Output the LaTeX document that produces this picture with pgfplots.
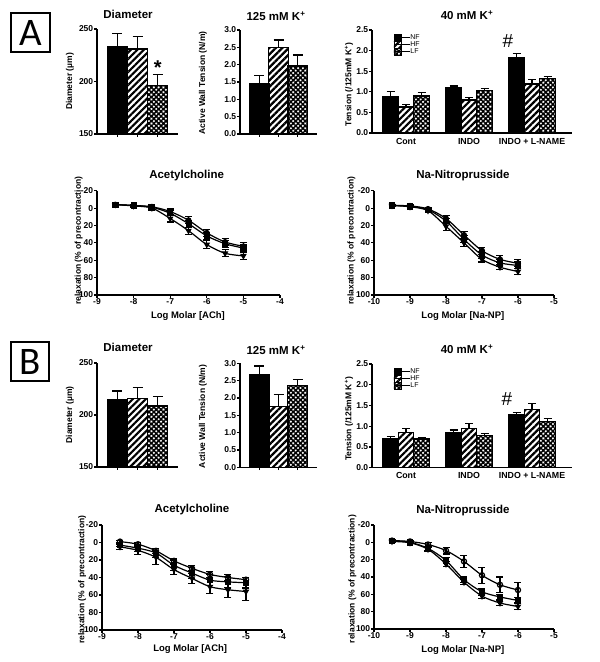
\documentclass[border=0pt]{standalone}
\usepackage{fontspec}
\setmainfont{Liberation Sans}
\newfontfamily\boxfont{Carlito}
\usepackage{pgfplots}
\pgfplotsset{compat=1.18}
\usetikzlibrary{patterns.meta}

\tikzset{
  nf/.style={fill=black, draw=black, line width=1.2pt},
  hf/.style={pattern={Lines[angle=45,distance=4.6pt,line width=2.2pt]}, draw=black, line width=1.2pt},
  lf/.style={pattern={Hatch[angle=45,distance=3.4pt,line width=1.5pt]}, draw=black, line width=1.2pt},
}
\pgfplotsset{
  gp/.style={
    scale only axis, anchor=south west,
    axis lines*=left,
    axis line style={line width=1.3pt,-},
    tick style={line width=1.1pt,black},
    tick align=outside, major tick length=2.8pt,
    tick label style={font=\bfseries\fontsize{8.5}{9}\selectfont, inner sep=0.8pt},
    /pgf/number format/assume math mode=true,
    ylabel style={font=\bfseries\fontsize{8.5}{10}\selectfont},
    xlabel style={font=\bfseries\fontsize{9.5}{11}\selectfont},
    title style={font=\bfseries\fontsize{11.5}{13}\selectfont},
    every axis title shift=0pt,
  },
  ttl/.style 2 args={title style={at={(axis description cs:#1,#2)},anchor=center}},
  ylab/.style 2 args={ylabel style={at={(axis description cs:#1,#2)},anchor=center}},
  xlab/.style 2 args={xlabel style={at={(axis description cs:#1,#2)},anchor=center}},
  errp/.style={
    /pgfplots/error bars/y dir=plus, /pgfplots/error bars/y explicit,
    /pgfplots/error bars/error bar style={line width=1.2pt,black,solid},
    /pgfplots/error bars/error mark options={rotate=90,mark size=5pt,line width=1.2pt,black,solid},
  },
  errs/.style={
    /pgfplots/error bars/y dir=plus, /pgfplots/error bars/y explicit,
    /pgfplots/error bars/error bar style={line width=1.1pt,black,solid},
    /pgfplots/error bars/error mark options={rotate=90,mark size=4pt,line width=1.1pt,black,solid},
  },
  single/.style={gp, xmin=0, xmax=4, xtick={1,2,3}, xticklabels={,,}},
  triple/.style={gp, xmin=0.46, xmax=3.635, xtick={1,2,3},
    xticklabels={Cont,INDO,INDO + L-NAME},
    xticklabel style={font=\bfseries\fontsize{8.8}{10}\selectfont, inner sep=2pt},
    major x tick style={draw=none},
    ymin=0, ymax=2.5, ytick={0,0.5,...,2.5},
    yticklabel style={/pgf/number format/.cd,fixed,fixed zerofill,precision=1},
    ylabel={Tension (/125mM K\textsuperscript{+})},
    ylab={-0.115}{0.47},
    title={40 mM K\textsuperscript{+}},
    legend style={draw=none, fill=none, at={(axis description cs:0.105,0.965)},
      anchor=north west, font=\fontsize{7}{7}\selectfont,
      row sep=0pt, inner sep=0pt, nodes={inner sep=0pt}, cells={anchor=west}},
    legend image code/.code={\draw[##1,line width=0.5pt] (0pt,-3.3pt) rectangle (7pt,3.3pt);
      \path (0pt,0pt) -- (16pt,0pt);},
  },
  curve/.style={gp, y dir=reverse, ymin=-20, ymax=100, ytick={-20,0,...,100},
    ylabel={relaxation (\% of precontraction)}},
  cl/.style={black, line width=1.2pt, smooth, mark size=2.6pt,
    mark options={solid,line width=0.8pt},
    /pgfplots/error bars/y dir=both, /pgfplots/error bars/y explicit,
    /pgfplots/error bars/error bar style={line width=1.1pt,black},
    /pgfplots/error bars/error mark options={rotate=90,mark size=3.5pt,line width=1.1pt,black}},
  bar1/.style={ybar, bar width=20pt, bar shift=0pt},
  bar3/.style={ybar, bar width=15.5pt, bar shift=0pt},
}

\begin{document}
\begin{tikzpicture}[x=1pt,y=1pt]

\node[draw, line width=1.1pt, minimum width=39pt, minimum height=39pt, inner sep=0pt,
  font=\boxfont\fontsize{39}{39}\selectfont] at (30.5pt,629.5pt) {A};
\node[draw, line width=1.1pt, minimum width=38pt, minimum height=39pt, inner sep=0pt,
  font=\boxfont\fontsize{39}{39}\selectfont] at (30pt,300.5pt) {B};

% ---------- A: Diameter
\begin{axis}[single, at={(97pt,528pt)}, width=81pt, height=105pt,
  ymin=150, ymax=250, ytick={150,200,250},
  ylabel={Diameter (µm)}, ylab={-0.333}{0.5},
  title={Diameter}, ttl={0.383}{1.143}]
\addplot[nf, bar1, errp] coordinates {(1,233) +- (0,13)};
\addplot[hf, bar1, errp] coordinates {(2,231) +- (0,12)};
\addplot[lf, bar1, errp] coordinates {(3,196) +- (0,10.5)};
\node[anchor=base, font=\bfseries\fontsize{20}{20}\selectfont] at (axis cs:3,206.5) {*};
\end{axis}

% ---------- A: 125 mM
\begin{axis}[single, at={(240pt,528pt)}, width=77pt, height=104pt,
  ymin=0, ymax=3, ytick={0,0.5,...,3},
  yticklabel style={/pgf/number format/.cd,fixed,fixed zerofill,precision=1},
  ylabel={Active Wall Tension (N/m)}, ylab={-0.48}{0.49},
  title={125 mM K\textsuperscript{+}}, ttl={0.468}{1.135}]
\addplot[nf, bar1, errp] coordinates {(1,1.44) +- (0,0.25)};
\addplot[hf, bar1, errp] coordinates {(2,2.50) +- (0,0.21)};
\addplot[lf, bar1, errp] coordinates {(3,1.96) +- (0,0.32)};
\end{axis}

% ---------- A: 40 mM
\begin{axis}[triple, at={(372pt,529pt)}, width=200pt, height=103pt, ttl={0.475}{1.146}]
\addplot[nf, bar3, errs] coordinates {(0.754,0.88) +- (0,0.12) (1.754,1.09) +- (0,0.05) (2.754,1.83) +- (0,0.10)};
\addplot[hf, bar3, errs] coordinates {(1,0.63) +- (0,0.07) (2,0.80) +- (0,0.07) (3,1.19) +- (0,0.11)};
\addplot[lf, bar3, errs] coordinates {(1.246,0.90) +- (0,0.08) (2.246,1.03) +- (0,0.06) (3.246,1.32) +- (0,0.06)};
\legend{NF,HF,LF}
\node[anchor=base, xshift=-24pt, font=\fontsize{19}{19}\selectfont] at (axis cs:3,2.07) {\#};
\end{axis}

% ---------- A: Acetylcholine
\begin{axis}[curve, at={(97pt,367pt)}, width=183pt, height=104.3pt,
  xmin=-9, xmax=-4, xtick={-9,...,-4}, xlabel={Log Molar [ACh]},
  xlab={0.497}{-0.2}, ylab={-0.1}{0.52},
  title={Acetylcholine}, ttl={0.49}{1.15}]
\addplot[cl, mark=*] coordinates {(-8.5,-4) +- (0,1) (-8,-3) +- (0,1.5) (-7.5,-1.5) +- (0,2) (-7,4) +- (0,3) (-6.5,14) +- (0,4) (-6,28.5) +- (0,4) (-5.5,39) +- (0,4) (-5,44) +- (0,4)};
\addplot[cl, mark=square*] coordinates {(-8.5,-4) +- (0,1) (-8,-3) +- (0,1.5) (-7.5,-1) +- (0,2) (-7,6) +- (0,3) (-6.5,18) +- (0,4) (-6,32) +- (0,4) (-5.5,41) +- (0,4) (-5,46) +- (0,4)};
\addplot[cl, mark=triangle*, mark options={rotate=180}] coordinates {(-8.5,-4) +- (0,1.5) (-8,-2.5) +- (0,2) (-7.5,0) +- (0,2.5) (-7,12) +- (0,4) (-6.5,26) +- (0,4) (-6,42) +- (0,5) (-5.5,52) +- (0,4) (-5,55) +- (0,4)};
\end{axis}

% ---------- A: Na-Nitroprusside
\begin{axis}[curve, at={(374pt,367pt)}, width=180pt, height=104.3pt,
  xmin=-10, xmax=-5, xtick={-10,...,-5}, xlabel={Log Molar [Na-NP]},
  xlab={0.494}{-0.2}, ylab={-0.125}{0.52},
  title={Na-Nitroprusside}, ttl={0.494}{1.15}]
\addplot[cl, mark=*] coordinates {(-9.5,-3) +- (0,1) (-9,-2.5) +- (0,1) (-8.5,1) +- (0,2) (-8,12) +- (0,3) (-7.5,31) +- (0,4) (-7,49) +- (0,4) (-6.5,59) +- (0,4) (-6,63.5) +- (0,4)};
\addplot[cl, mark=square*] coordinates {(-9.5,-3) +- (0,1) (-9,-2) +- (0,1) (-8.5,2) +- (0,2) (-8,15) +- (0,3) (-7.5,36) +- (0,4) (-7,54) +- (0,4) (-6.5,63) +- (0,4) (-6,66) +- (0,4)};
\addplot[cl, mark=triangle*, mark options={rotate=180}] coordinates {(-9.5,-3) +- (0,1) (-9,-1.5) +- (0,1) (-8.5,3) +- (0,2) (-8,21) +- (0,5) (-7.5,40) +- (0,4) (-7,59) +- (0,3) (-6.5,68) +- (0,3) (-6,73) +- (0,3)};
\end{axis}

% ---------- B: Diameter
\begin{axis}[single, at={(97pt,195pt)}, width=81pt, height=104pt,
  ymin=150, ymax=250, ytick={150,200,250},
  ylabel={Diameter (µm)}, ylab={-0.333}{0.5},
  title={Diameter}, ttl={0.383}{1.154}]
\addplot[nf, bar1, errp] coordinates {(1,215) +- (0,8)};
\addplot[hf, bar1, errp] coordinates {(2,215.5) +- (0,11)};
\addplot[lf, bar1, errp] coordinates {(3,208.7) +- (0,9)};
\end{axis}

% ---------- B: 125 mM
\begin{axis}[single, at={(240pt,194.7pt)}, width=77pt, height=104pt,
  ymin=0, ymax=3, ytick={0,0.5,...,3},
  yticklabel style={/pgf/number format/.cd,fixed,fixed zerofill,precision=1},
  ylabel={Active Wall Tension (N/m)}, ylab={-0.48}{0.49},
  title={125 mM K\textsuperscript{+}}, ttl={0.468}{1.128}]
\addplot[nf, bar1, errp] coordinates {(1,2.68) +- (0,0.24)};
\addplot[hf, bar1, errp] coordinates {(2,1.75) +- (0,0.34)};
\addplot[lf, bar1, errp] coordinates {(3,2.35) +- (0,0.19)};
\end{axis}

% ---------- B: 40 mM
\begin{axis}[triple, at={(372pt,194.3pt)}, width=200pt, height=103.7pt, ttl={0.475}{1.145}]
\addplot[nf, bar3, errs] coordinates {(0.754,0.71) +- (0,0.05) (1.754,0.84) +- (0,0.07) (2.754,1.27) +- (0,0.06)};
\addplot[hf, bar3, errs] coordinates {(1,0.85) +- (0,0.10) (2,0.94) +- (0,0.13) (3,1.40) +- (0,0.14)};
\addplot[lf, bar3, errs] coordinates {(1.246,0.69) +- (0,0.03) (2.246,0.78) +- (0,0.04) (3.246,1.11) +- (0,0.08)};
\legend{NF,HF,LF}
\node[anchor=base, xshift=-25pt, font=\fontsize{19}{19}\selectfont] at (axis cs:3,1.51) {\#};
\end{axis}

% ---------- B: Acetylcholine
\begin{axis}[curve, at={(102pt,32pt)}, width=180pt, height=105pt,
  xmin=-9, xmax=-4, xtick={-9,...,-4}, xlabel={Log Molar [ACh]},
  xlab={0.49}{-0.18}, ylab={-0.11}{0.48},
  title={Acetylcholine}, ttl={0.5}{1.143}]
\addplot[cl, mark=o, mark options={fill=white,line width=1.2pt}] coordinates {(-8.5,-1) +- (0,1) (-8,2) +- (0,2) (-7.5,9.5) +- (0,3) (-7,21) +- (0,3) (-6.5,29.5) +- (0,3) (-6,36.5) +- (0,3) (-5.5,40) +- (0,3) (-5,42.5) +- (0,3)};
\addplot[cl, mark=square*] coordinates {(-8.5,3) +- (0,2) (-8,6.5) +- (0,4) (-7.5,12) +- (0,5) (-7,26) +- (0,6) (-6.5,35) +- (0,6) (-6,43) +- (0,6) (-5.5,45) +- (0,6) (-5,46) +- (0,6)};
\addplot[cl, mark=triangle*, mark options={rotate=180}] coordinates {(-8.5,5) +- (0,3) (-8,9) +- (0,5) (-7.5,17) +- (0,8) (-7,31) +- (0,6) (-6.5,41) +- (0,6) (-6,50.5) +- (0,8) (-5.5,54) +- (0,9) (-5,56) +- (0,10)};
\end{axis}

% ---------- B: Na-Nitroprusside
\begin{axis}[curve, at={(374pt,33pt)}, width=180pt, height=104pt,
  xmin=-10, xmax=-5, xtick={-10,...,-5}, xlabel={Log Molar [Na-NP]},
  xlab={0.494}{-0.2}, ylab={-0.12}{0.48},
  title={Na-Nitroprusside}, ttl={0.494}{1.144}]
\addplot[cl, mark=o, mark options={fill=white,line width=1.2pt}] coordinates {(-9.5,-2) +- (0,1) (-9,-1) +- (0,1) (-8.5,2.5) +- (0,2) (-8,9.5) +- (0,4) (-7.5,22) +- (0,7) (-7,38) +- (0,9) (-6.5,49) +- (0,9) (-6,55) +- (0,9)};
\addplot[cl, mark=square*] coordinates {(-9.5,-2) +- (0,1) (-9,0) +- (0,1) (-8.5,7) +- (0,2) (-8,21) +- (0,3) (-7.5,43) +- (0,3) (-7,57) +- (0,4) (-6.5,63) +- (0,3) (-6,67) +- (0,3)};
\addplot[cl, mark=triangle*, mark options={rotate=180}] coordinates {(-9.5,-1) +- (0,1) (-9,0.5) +- (0,1) (-8.5,8) +- (0,2) (-8,25) +- (0,3) (-7.5,46) +- (0,3) (-7,62) +- (0,3) (-6.5,70) +- (0,3) (-6,74) +- (0,3)};
\end{axis}

\pgfresetboundingbox
\path[use as bounding box] (0pt,0pt) rectangle (600pt,662pt);
\end{tikzpicture}
\end{document}
